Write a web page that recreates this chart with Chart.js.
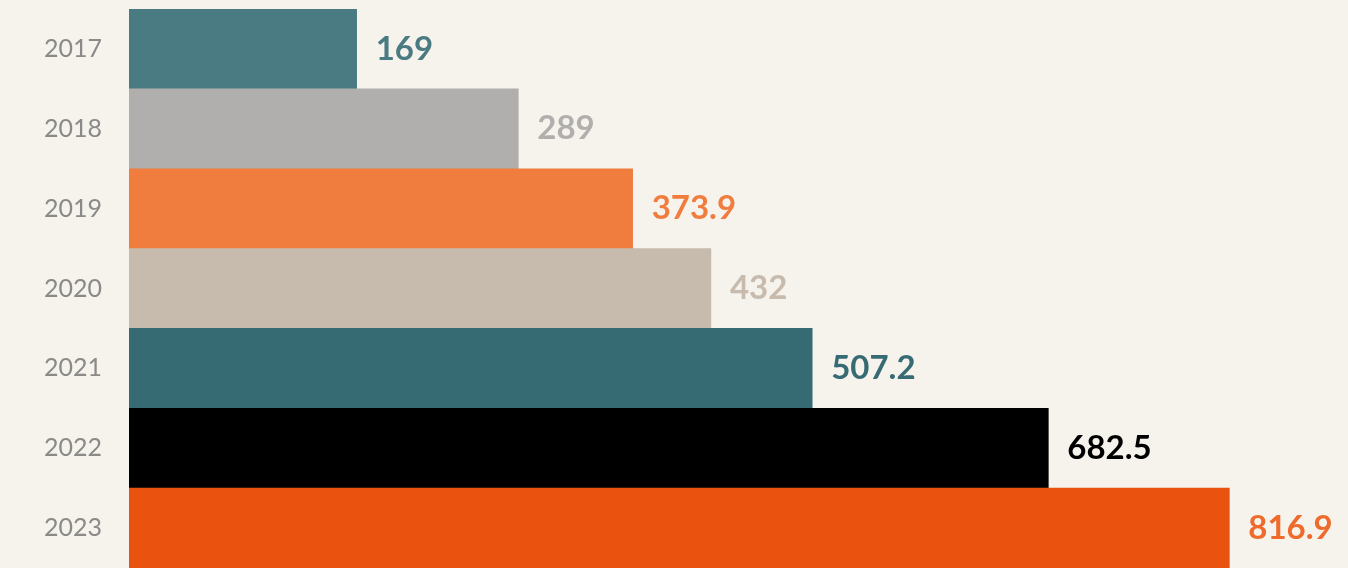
<!DOCTYPE html>
<html>
<head>
<meta charset="utf-8">
<script src="https://cdn.jsdelivr.net/npm/chart.js@4"></script>
<style>
    html, body { margin: 0; padding: 0; background: #f6f2ec; }
    .wrap { width: 1348px; height: 568px; position: relative; }
</style>
</head>
<body>
<div class="wrap"><canvas id="chartAnos"></canvas></div>
<script>
// Dados
const anos = ['2017', '2018', '2019', '2020', '2021', '2022', '2023'];
const valores = [169, 289, 373.9, 432, 507.2, 682.5, 816.9];
const coresBarras = ['#4a7b82', '#b0afad', '#f07c3d', '#c6bbac', '#376b74', '#000000', '#e9530f'];
const coresRotulos = ['#4a7b82', '#b0afad', '#f07c3d', '#c6bbac', '#376b74', '#000000', '#ef6b2b'];

// rótulos de valor à direita de cada barra
const rotulosPlugin = {
    id: 'rotulos',
    afterDatasetsDraw(chart) {
        const ctx = chart.ctx;
        const meta = chart.getDatasetMeta(0);
        ctx.save();
        ctx.font = 'bold 33px Lato';
        ctx.textBaseline = 'middle';
        ctx.textAlign = 'left';
        meta.data.forEach(function(bar, i) {
            ctx.fillStyle = coresRotulos[i];
            ctx.fillText(String(valores[i]), bar.x + 19, bar.y);
        });
        ctx.restore();
    }
};

new Chart(document.getElementById('chartAnos'), {
    type: 'bar',
    data: {
        labels: anos,
        datasets: [{
            data: valores,
            backgroundColor: coresBarras,
            borderWidth: 0,
            barPercentage: 1,
            categoryPercentage: 1
        }]
    },
    options: {
        indexAxis: 'y',
        responsive: true,
        maintainAspectRatio: false,
        animation: false,
        layout: { padding: { top: 9, bottom: 0, left: 0, right: 0 } },
        plugins: {
            legend: { display: false },
            tooltip: { enabled: false }
        },
        scales: {
            x: {
                display: false,
                min: 0,
                max: 905
            },
            y: {
                grid: { display: false },
                border: { display: false },
                ticks: {
                    color: '#8a8a88',
                    font: { family: 'Lato', size: 25 },
                    padding: 19
                },
                afterFit: function(scale) {
                    scale.width = 129;
                    scale.paddingTop = 0;
                    scale.paddingBottom = 0;
                }
            }
        }
    },
    plugins: [rotulosPlugin]
});
</script>
</body>
</html>
